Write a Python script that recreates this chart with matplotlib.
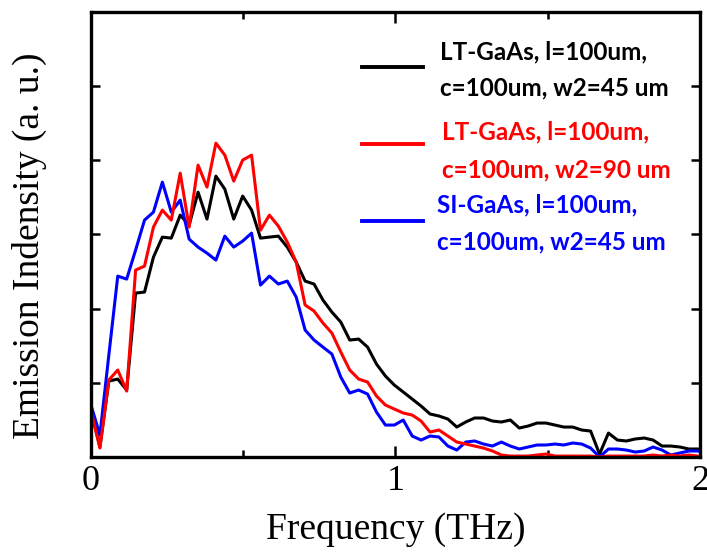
import numpy as np
import matplotlib
matplotlib.use("Agg")
import matplotlib.pyplot as plt

plt.rcParams['font.family'] = ['Liberation Serif', 'DejaVu Serif']

# spectra sampled on a uniform frequency grid (THz)
freq_step = 0.0293
black_lt45 = [0.633, 0.135, 1.024, 1.051, 0.903, 2.210, 2.224, 2.695, 2.965, 2.951,
              3.261, 3.127, 3.571, 3.208, 3.787, 3.612, 3.208, 3.518, 3.329, 2.951,
              2.965, 2.978, 2.830, 2.628, 2.372, 2.332, 2.116, 1.954, 1.819, 1.577,
              1.590, 1.482, 1.253, 1.092, 0.970, 0.876, 0.782, 0.687, 0.580, 0.553,
              0.512, 0.404, 0.472, 0.526, 0.526, 0.485, 0.472, 0.499, 0.391, 0.418,
              0.458, 0.458, 0.431, 0.404, 0.404, 0.364, 0.350, 0.040, 0.323, 0.229,
              0.216, 0.243, 0.256, 0.229, 0.148, 0.148, 0.135, 0.108, 0.108, 0.108]
red_lt90 = [0.620, 0.121, 1.038, 1.173, 0.889, 2.520, 2.574, 3.100, 3.329, 3.194,
            3.827, 3.100, 3.935, 3.639, 4.232, 4.070, 3.720, 4.003, 4.070, 3.059,
            3.261, 3.113, 2.898, 2.628, 2.049, 1.968, 1.806, 1.671, 1.415, 1.173,
            1.051, 1.011, 0.822, 0.701, 0.647, 0.593, 0.566, 0.485, 0.337, 0.364,
            0.283, 0.202, 0.175, 0.148, 0.121, 0.081, 0.027, 0.013, 0.013, 0.013,
            0.027, 0.040, 0.013, 0.013, 0.013, 0.013, 0.013, 0.000, 0.013, 0.013,
            0.013, 0.013, 0.013, 0.027, 0.013, 0.027, 0.013, 0.027, 0.013, 0.000]
blue_si45 = [0.701, 0.296, 1.375, 2.439, 2.399, 2.790, 3.194, 3.302, 3.706, 3.302,
             3.464, 2.938, 2.830, 2.749, 2.655, 2.978, 2.830, 2.911, 3.019, 2.318,
             2.439, 2.332, 2.372, 2.156, 1.712, 1.577, 1.482, 1.388, 1.078, 0.863,
             0.903, 0.849, 0.606, 0.431, 0.431, 0.499, 0.283, 0.229, 0.283, 0.270,
             0.148, 0.094, 0.202, 0.216, 0.175, 0.148, 0.202, 0.148, 0.108, 0.135,
             0.162, 0.162, 0.175, 0.162, 0.189, 0.175, 0.121, 0.000, 0.108, 0.108,
             0.094, 0.067, 0.081, 0.135, 0.094, 0.027, 0.054, 0.081, 0.081, 0.054]

legend_labels = [
    ("LT-GaAs, l=100um,", "c=100um, w2=45 um"),
    ("LT-GaAs, l=100um,", "c=100um, w2=90 um"),
    ("SI-GaAs, l=100um,", "c=100um, w2=45 um"),
]
colors = ['black', 'red', 'blue']

freq = np.arange(len(black_lt45)) * freq_step

fig = plt.figure(figsize=(7.07, 5.57), dpi=100)
ax = fig.add_axes([0.1287, 0.1795, 0.8614, 0.799])

ax.plot(freq, black_lt45, color='black', lw=2.2)
ax.plot(freq, blue_si45, color='blue', lw=2.2)
ax.plot(freq, red_lt90, color='red', lw=2.2)

ax.set_xlim(0, 2)
ax.set_ylim(0, 6)
ax.set_xticks([0, 1, 2])
ax.set_xticks([0.5, 1.5], minor=True)
ax.set_yticks([1, 2, 3, 4, 5])
ax.set_yticklabels([])
ax.tick_params(axis='x', which='major', direction='in', top=True, length=8, width=1.8,
               labelsize=26, pad=6)
ax.tick_params(axis='x', which='minor', direction='in', top=True, length=5, width=1.8)
ax.tick_params(axis='y', which='major', direction='in', right=True, length=6.5, width=1.8)
for sp in ax.spines.values():
    sp.set_linewidth(2.4)

ax.set_xlabel('Frequency (THz)', fontsize=27)
ax.xaxis.set_label_coords(0.5, -0.125)
ax.set_ylabel('Emission Indensity (a. u.)', fontsize=27)
ax.yaxis.set_label_coords(-0.072, 0.474)

# hand-made legend: short line plus two lines of bold text per series
handle_y = [0.877, 0.7034, 0.531]
text_x = [0.573, 0.576, 0.5686]
text_y = [(0.9108, 0.8285), (0.731, 0.645), (0.5663, 0.4838)]
for c, hy, tx, (y1, y2), (l1, l2) in zip(colors, handle_y, text_x, text_y, legend_labels):
    ax.plot([0.4445, 0.5445], [hy, hy], color=c, lw=2.8, transform=ax.transAxes,
            clip_on=False)
    for ty, lab in ((y1, l1), (y2, l2)):
        ax.text(tx, ty, lab, color=c, transform=ax.transAxes, ha='left', va='center',
                fontsize=17.5, fontweight='bold', family=['Lato', 'DejaVu Sans'])

fig.savefig('out.png', dpi=100)
